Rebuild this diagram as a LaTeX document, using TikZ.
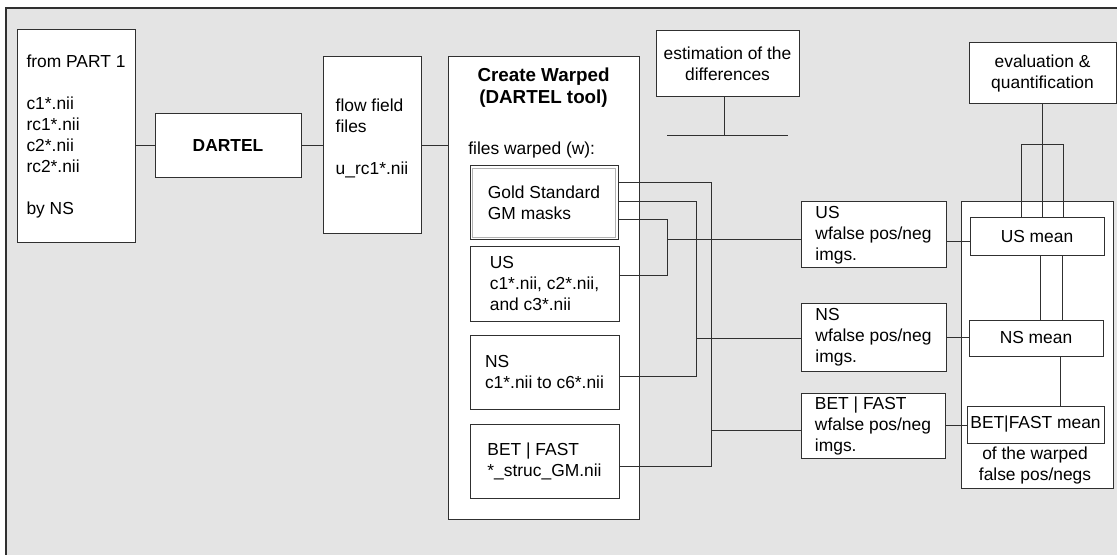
\documentclass[tikz,border=0pt]{standalone}
\usepackage{fontspec}
\setmainfont{Liberation Sans}
\usetikzlibrary{calc}
\definecolor{panelgray}{HTML}{E4E4E4}
\definecolor{linegray}{HTML}{303030}
\newcommand{\diagfont}{\fontsize{8.7}{10.5}\selectfont}
\newcommand{\titlefont}{\fontsize{9.4}{10.8}\selectfont\bfseries}

\begin{document}
\begin{tikzpicture}[x=0.5pt, y=-0.5pt,
    box/.style={draw=linegray, fill=white, line width=0.5pt, align=left, inner ysep=1pt, font=\diagfont},
    cbox/.style={box, align=center},
    wire/.style={draw=linegray, line width=0.5pt}]
    \useasboundingbox (0,0) rectangle (1117,555);
    % Background panel
    \fill[white] (0,0) rectangle (1117,555);
    \fill[panelgray] (6,8) rectangle (1120,560);
    \draw[linegray, line width=0.8pt] (6,560) -- (6,8) -- (1120,8);
    % Input and DARTEL chain
    \node[box, minimum width=59pt, minimum height=106.5pt] (part1) at (76,136.5)
        {from PART 1\\[10.5pt] c1*.nii\\ rc1*.nii\\ c2*.nii\\ rc2*.nii\\[10.5pt] by NS};
    \node[cbox, minimum width=73pt, minimum height=32pt, font=\diagfont\bfseries] (dartel) at (228,146) {DARTEL};
    \node[box, minimum width=49pt, minimum height=88.5pt] (flow) at (372,145.5)
        {flow field\\ files\\[10.5pt] u\_rc1*.nii\\[-2pt]\mbox{}};
    % Create Warped container
    \node[box, minimum width=95.5pt, minimum height=231pt] (warp) at (543.5,288) {};
    \node[font=\titlefont, align=center] (warptitle) at (543.5,87.5) {Create Warped\\(DARTEL tool)};
    \node[font=\diagfont, anchor=west, inner sep=0pt] (warplabel) at (468,150) {files warped (w):};
    \node[box, minimum width=74pt, minimum height=37pt] (gold) at (544,203) {Gold Standard\\GM masks};
    \draw[gray!60, line width=0.5pt] ($(gold.north west)+(3,3)$) rectangle ($(gold.south east)+(-3,-3)$);
    \node[box, minimum width=74.5pt, minimum height=37pt] (us) at (544.5,284) {US\\c1*.nii, c2*.nii,\\and c3*.nii};
    \node[box, minimum width=74.5pt, minimum height=37pt] (ns) at (544.5,372) {NS\\c1*.nii to c6*.nii};
    \node[box, minimum width=74.5pt, minimum height=37pt] (bf) at (544.5,461) {BET | FAST\\*\_struc\_GM.nii};
    % Estimation of the differences
    \node[cbox, minimum width=71.5pt, minimum height=33pt] (est) at (727.5,64) {estimation of the\\differences};
    \coordinate (barL) at (667,136);
    \coordinate (barR) at (788,136);
    \coordinate (estfoot) at ($(est.south)+(-3.5,0)$);
    \draw[wire] (estfoot) -- (estfoot |- barL);
    \draw[wire] (barL) -- (barR);
    % Warped false pos/neg images
    \node[box, minimum width=72.5pt, minimum height=33pt] (usfp) at (873.5,235) {US\\wfalse pos/neg\\imgs.};
    \node[box, minimum width=72.5pt, minimum height=33.5pt] (nsfp) at (873.5,337.5) {NS\\wfalse pos/neg\\imgs.};
    \node[box, minimum width=72pt, minimum height=32.5pt] (bffp) at (873,425.5) {BET | FAST\\wfalse pos/neg\\imgs.};
    % Means container
    \node[box, minimum width=76pt, minimum height=143pt] (meanbox) at (1037,345) {};
    \node[cbox, minimum width=67pt, minimum height=19pt] (usmean) at (1037,237) {US mean};
    \node[cbox, minimum width=67pt, minimum height=18pt] (nsmean) at (1036,338) {NS mean};
    \node[cbox, minimum width=68.5pt, minimum height=18.5pt, inner xsep=1pt] (bfmean) at (1035.5,424.5) {BET|FAST mean};
    \node[font=\diagfont, align=center] (meannote) at (1035,465) {of the warped\\false pos/negs};
    \node[cbox, minimum width=73.5pt, minimum height=30.5pt] (eval) at (1042.5,73.5) {evaluation \&\\quantification};
    % Main chain
    \draw[wire] (dartel.west) -- (dartel.west -| part1.east);
    \draw[wire] (dartel.east) -- (dartel.east -| flow.west);
    \draw[wire] (flow.east) -- (flow.east -| warp.west);
    % Warped files to wfalse images
    \coordinate (busUS) at (667,240);
    \coordinate (busNS) at (696,338);
    \coordinate (busBF) at (711,430);
    \draw[wire] ($(gold.east)+(0,17)$) -| (busUS) |- ($(us.east)+(0,-8)$);
    \draw[wire] (busUS) -- (busUS -| usfp.west);
    \draw[wire] ($(gold.east)+(0,-1)$) -| (busNS) |- ($(ns.east)+(0,4)$);
    \draw[wire] (busNS) -- (busNS -| nsfp.west);
    \draw[wire] ($(gold.east)+(0,-20)$) -| (busBF) |- ($(bf.east)+(0,5)$);
    \draw[wire] (busBF) -- (busBF -| bffp.west);
    % Images to means
    \draw[wire] ($(usfp.east)+(0,7)$) -- ($(usmean.west)+(0,5)$);
    \draw[wire] (nsfp.east) -- (nsfp.east -| nsmean.west);
    \draw[wire] (bffp.east) -- (bffp.east -| bfmean.west);
    % Means to evaluation
    \draw[wire] (eval.south) -- (eval.south |- usmean.north);
    \draw[wire] ($(usmean.north)+(-16,0)$) |- ($(eval.south)+(0,40)$) -| ($(usmean.north)+(26,0)$);
    \draw[wire] ($(usmean.south)+(3,0)$) -- ($(nsmean.north)+(4,0)$);
    \draw[wire] ($(usmean.south)+(25,0)$) -- ($(nsmean.north)+(26,0)$);
    \draw[wire] ($(nsmean.south)+(24,0)$) -- ($(bfmean.north)+(24.5,0)$);
\end{tikzpicture}
\end{document}
